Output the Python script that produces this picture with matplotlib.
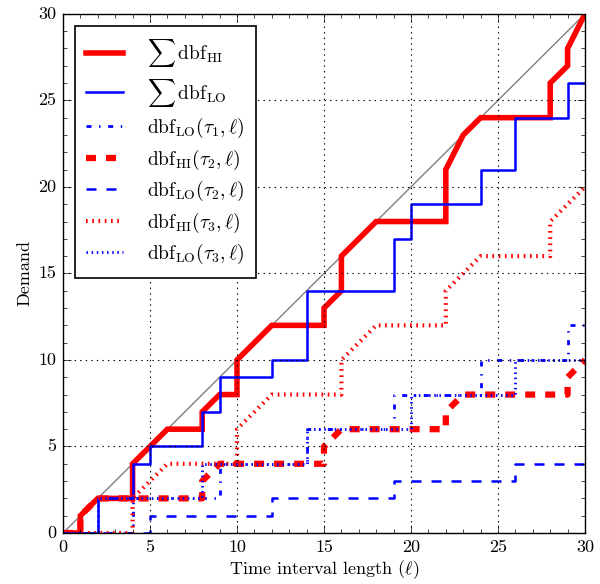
import matplotlib
matplotlib.use("Agg")
import matplotlib.pyplot as plt
from matplotlib.ticker import MultipleLocator, FuncFormatter

plt.style.use("classic")
plt.rcParams.update({
    "figure.facecolor": "white",
    "savefig.facecolor": "white",
    "font.family": "cmr10",
    "mathtext.fontset": "cm",
    "axes.formatter.use_mathtext": True,
    "lines.scale_dashes": False,
})

# ---- data ----
sum_hi_x = [0, 1, 1, 2, 4, 4, 6, 8, 8, 9, 10, 10, 12, 15, 15, 16, 16, 18, 22, 22, 23, 24, 28, 28, 29, 29, 30]
sum_hi_y = [0, 0, 1, 2, 2, 4, 6, 6, 7, 8, 8, 10, 12, 12, 13, 14, 16, 18, 18, 21, 23, 24, 24, 26, 27, 28, 30]

sum_lo_x = [0, 2, 2, 4, 4, 5, 5, 8, 8, 9, 9, 12, 12, 14, 14, 19, 19, 20, 20, 24, 24, 26, 26, 29, 29, 30]
sum_lo_y = [0, 0, 2, 2, 4, 4, 5, 5, 7, 7, 9, 9, 10, 10, 14, 14, 17, 17, 19, 19, 21, 21, 24, 24, 26, 26]

lo1_x = [0, 4, 4, 9, 9, 14, 14, 19, 19, 24, 24, 29, 29, 30]
lo1_y = [0, 0, 2, 2, 4, 4, 6, 6, 8, 8, 10, 10, 12, 12]

hi2_x = [0, 1, 1, 2, 8, 8, 9, 15, 15, 16, 22, 22, 23, 29, 29, 30]
hi2_y = [0, 0, 1, 2, 2, 3, 4, 4, 5, 6, 6, 7, 8, 8, 9, 10]

lo2_x = [0, 5, 5, 12, 12, 19, 19, 26, 26, 30]
lo2_y = [0, 0, 1, 1, 2, 2, 3, 3, 4, 4]

hi3_x = [0, 4, 4, 6, 10, 10, 12, 16, 16, 18, 22, 22, 24, 28, 28, 30]
hi3_y = [0, 0, 2, 4, 4, 6, 8, 8, 10, 12, 12, 14, 16, 16, 18, 20]

lo3_x = [0, 2, 2, 8, 8, 14, 14, 20, 20, 26, 26, 30]
lo3_y = [0, 0, 2, 2, 4, 4, 6, 6, 8, 8, 10, 10]

diag = [0, 30]

labels = [
    r"$\sum\,\mathrm{dbf}_{\mathrm{HI}}$",
    r"$\sum\,\mathrm{dbf}_{\mathrm{LO}}$",
    r"$\mathrm{dbf}_{\mathrm{LO}}(\tau_1,\ell)$",
    r"$\mathrm{dbf}_{\mathrm{HI}}(\tau_2,\ell)$",
    r"$\mathrm{dbf}_{\mathrm{LO}}(\tau_2,\ell)$",
    r"$\mathrm{dbf}_{\mathrm{HI}}(\tau_3,\ell)$",
    r"$\mathrm{dbf}_{\mathrm{LO}}(\tau_3,\ell)$",
]

fig = plt.figure(figsize=(6.0, 5.84), dpi=100)
ax = fig.add_axes([0.105, 0.0873, 0.870, 0.889])

ax.plot(diag, diag, color="0.5", lw=1.0, zorder=1)
ax.plot(sum_hi_x, sum_hi_y, color="red", lw=4, solid_joinstyle="miter", label=labels[0])
ax.plot(sum_lo_x, sum_lo_y, color="blue", lw=1.8, label=labels[1])
ax.plot(lo1_x, lo1_y, color="blue", lw=2, dashes=(3.6, 5.5, 1.0, 5.5), label=labels[2])
ax.plot(hi2_x, hi2_y, color="red", lw=4.5, dashes=(7.2, 7.2), label=labels[3])
ax.plot(lo2_x, lo2_y, color="blue", lw=1.8, dashes=(7.2, 7.2), label=labels[4])
ax.plot(hi3_x, hi3_y, color="red", lw=3, dashes=(1.2, 3.3), label=labels[5])
ax.plot(lo3_x, lo3_y, color="blue", lw=2, dashes=(1.1, 2.6), label=labels[6])

ax.set_xlim(0, 30)
ax.set_ylim(0, 30)
ax.xaxis.set_major_locator(MultipleLocator(5))
ax.yaxis.set_major_locator(MultipleLocator(5))
ax.xaxis.set_minor_locator(MultipleLocator(1))
ax.yaxis.set_minor_locator(MultipleLocator(1))
fmt = FuncFormatter(lambda v, p: "%d" % v)
ax.xaxis.set_major_formatter(fmt)
ax.yaxis.set_major_formatter(fmt)
ax.tick_params(axis="both", which="both", direction="in", top=True, right=True)
ax.tick_params(axis="both", which="major", length=6, labelsize=13, pad=5)
ax.tick_params(axis="both", which="minor", length=3)
ax.grid(True, which="major", color="k", linestyle=":", linewidth=0.8)
ax.set_axisbelow(False)

ax.set_xlabel(r"Time interval length ($\ell$)", fontsize=13, labelpad=2)
ax.set_ylabel("Demand", fontsize=13, labelpad=4)

leg = ax.legend(loc="upper left", fontsize=14, handlelength=1.9, handletextpad=1.2,
                labelspacing=0.38, borderpad=0.6, borderaxespad=0.6,
                fancybox=False, framealpha=1.0, numpoints=1)
leg.get_frame().set_edgecolor("black")
leg.get_frame().set_linewidth(1.2)

fig.savefig("out.png", dpi=100)
